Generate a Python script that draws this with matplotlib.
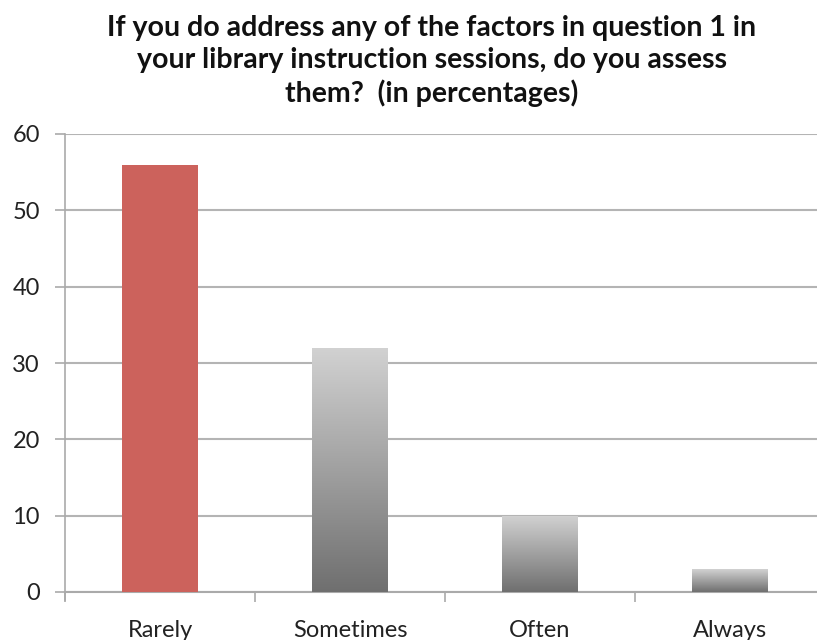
import matplotlib
matplotlib.use("Agg")
import matplotlib.pyplot as plt
import numpy as np
from matplotlib.colors import LinearSegmentedColormap

categories = ["Rarely", "Sometimes", "Often", "Always"]
values = [56, 32, 10, 3]
title = ("If you do address any of the factors in question 1 in\n"
         "your library instruction sessions, do you assess\n"
         "them?  (in percentages)")
yticks = [0, 10, 20, 30, 40, 50, 60]

plt.rcParams['font.family'] = ['Lato', 'DejaVu Sans']

W, H = 817, 640
fig = plt.figure(figsize=(W / 100, H / 100), dpi=100)
left, right, bottom, top = 65, 825, 592, 134
ax = fig.add_axes([left / W, 1 - bottom / H, (right - left) / W, (bottom - top) / H])

x = np.arange(len(categories))
bars = ax.bar(x, values, width=0.4, color="#cc625c", zorder=3)

# gradient fill for grey bars
grad = np.linspace(0, 1, 256).reshape(-1, 1)
cmap = LinearSegmentedColormap.from_list("g", ["#6f6f6f", "#d2d2d2"])
for b in bars[1:]:
    b.set_facecolor("none")
    x0, y0 = b.get_x(), b.get_y()
    w, h = b.get_width(), b.get_height()
    im = ax.imshow(grad, extent=[x0, x0 + w, y0, y0 + h], origin="lower",
                   cmap=cmap, aspect="auto", zorder=3, interpolation="bicubic")
    im.set_clip_path(b)

ax.set_xlim(-0.5, 3.5)
ax.set_ylim(0, 60)
ax.set_yticks(yticks)
ax.set_yticklabels([str(t) for t in yticks], fontsize=17, color="#222222")
ax.set_xticks(x)
ax.set_xticklabels(categories, fontsize=17, color="#222222")
ax.tick_params(axis="x", length=0, pad=20)
ax.set_xticks(np.arange(-0.5, 3.6, 1), minor=True)
ax.tick_params(axis="x", which="minor", length=7, color="#aaaaaa", width=1.2)
ax.tick_params(axis="y", length=7, color="#aaaaaa", width=1.2, pad=11)

ax.grid(axis="y", color="#b4b4b4", linewidth=1.5, zorder=0)
for s in ["top", "right"]:
    ax.spines[s].set_visible(False)
ax.spines["left"].set_color("#aaaaaa")
ax.spines["bottom"].set_color("#aaaaaa")
ax.spines["left"].set_linewidth(1.2)
ax.spines["bottom"].set_linewidth(1.5)
ax.spines["left"].set_bounds(-1, 60)

fig.text(432 / W, 1 - 61 / H, title, ha="center", va="center", fontsize=20.5,
         fontweight="bold", linespacing=1.27, color="#111111")

fig.savefig("out.png", dpi=100)
